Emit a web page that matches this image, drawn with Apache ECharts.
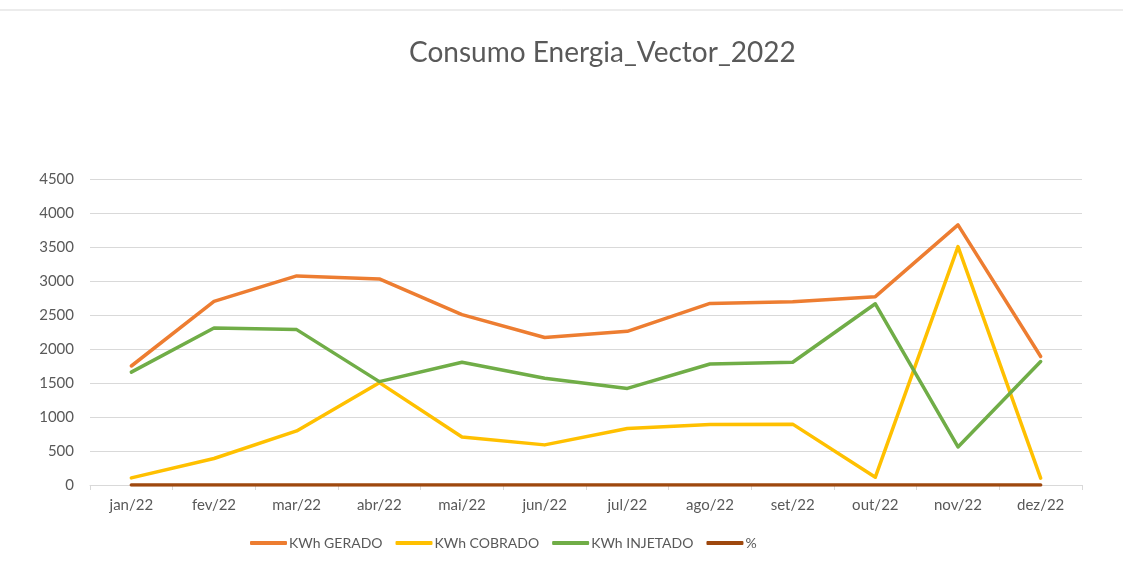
<!DOCTYPE html>
<html lang="pt">
<head>
    <meta charset="UTF-8">
    <title>Consumo Energia_Vector_2022</title>
    <style>
        html, body { margin: 0; padding: 0; background: #fff; }
    </style>
</head>
<body>
<div id="chart-box" style="height:569px;width:1123px"></div>
<script src="https://cdn.jsdelivr.net/npm/echarts@6/dist/echarts.min.js"></script>
<script>
// dados
var meses = ['jan/22','fev/22','mar/22','abr/22','mai/22','jun/22','jul/22','ago/22','set/22','out/22','nov/22','dez/22'];
var gerado = [1750, 2700, 3075, 3030, 2505, 2170, 2260, 2670, 2695, 2770, 3825, 1890];
var cobrado = [105, 390, 795, 1505, 705, 590, 830, 890, 895, 115, 3505, 100];
var injetado = [1660, 2310, 2285, 1520, 1805, 1570, 1420, 1780, 1805, 2665, 560, 1815];
var perc = [1, 1, 1, 1, 1, 1, 1, 1, 1, 1, 0, 1];
var ticksY = [0, 4500, 500];

var txt = '#595959';
var fonte = 'Lato, "Open Sans", sans-serif';

function linha(nome, dados, cor) {
    return {
        name: nome,
        type: 'line',
        data: dados,
        symbol: 'none',
        lineStyle: { width: 3.5, color: cor, cap: 'round', join: 'round' },
        itemStyle: { color: cor }
    };
}

var option = {
    backgroundColor: '#fff',
    textStyle: { fontFamily: fonte },
    title: {
        text: 'Consumo Energia_Vector_2022',
        left: 404,
        top: 34,
        textStyle: { fontSize: 28, fontWeight: 'normal', color: txt, fontFamily: fonte }
    },
    legend: {
        bottom: 14,
        left: 245,
        icon: 'roundRect',
        itemWidth: 37,
        itemHeight: 4,
        itemGap: 13,
        textStyle: { fontSize: 14, color: txt, fontFamily: fonte, padding: [0, 0, 0, -3] },
        data: ['KWh GERADO', 'KWh COBRADO', 'KWh INJETADO', '%']
    },
    grid: { left: 90, right: 41, top: 179, bottom: 84, containLabel: false },
    xAxis: {
        type: 'category',
        data: meses,
        boundaryGap: true,
        axisLine: { lineStyle: { color: '#d9d9d9', width: 1 } },
        axisTick: { show: true, length: 5, lineStyle: { color: '#d9d9d9' } },
        axisLabel: { color: txt, fontSize: 15, margin: 13, fontFamily: fonte }
    },
    yAxis: {
        type: 'value',
        min: ticksY[0],
        max: ticksY[1],
        interval: ticksY[2],
        axisLine: { show: false },
        axisTick: { show: false },
        axisLabel: { color: txt, fontSize: 15, margin: 16, fontFamily: fonte, formatter: function (v) { return String(v); } },
        splitLine: { lineStyle: { color: '#d9d9d9', width: 1 } }
    },
    series: [
        linha('KWh GERADO', gerado, '#ED7D31'),
        linha('KWh COBRADO', cobrado, '#FFC000'),
        linha('KWh INJETADO', injetado, '#70AD47'),
        linha('%', perc, '#9E480E')
    ],
    graphic: [{
        type: 'line',
        shape: { x1: 0, y1: 10, x2: 1123, y2: 10 },
        style: { stroke: '#d9d9d9', lineWidth: 1 }
    }]
};

var chart = echarts.init(document.getElementById('chart-box'));
chart.setOption(option);
</script>
</body>
</html>
